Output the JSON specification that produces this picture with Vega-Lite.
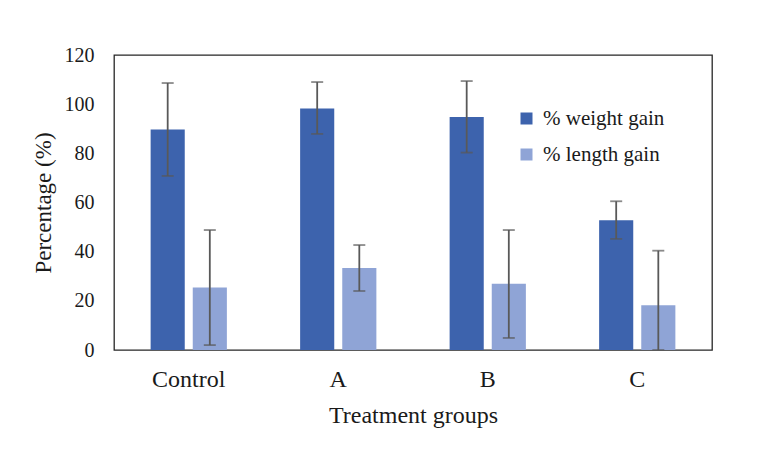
{
  "$schema": "https://vega.github.io/schema/vega-lite/v6.json",
  "autosize": "none",
  "width": 598,
  "height": 295,
  "padding": {"left": 114, "top": 55, "right": 71, "bottom": 108},
  "background": "white",
  "config": {
    "font": "Liberation Serif",
    "view": {"stroke": "#262626", "strokeWidth": 1.3},
    "axis": {"grid": false, "ticks": false, "domain": false, "labelColor": "#1a1a1a", "titleColor": "#1a1a1a", "labelFont": "Liberation Serif", "titleFont": "Liberation Serif", "titleFontWeight": "normal"}
  },
  "data": {
    "values": [
      {"group": "Control", "series": "% weight gain", "value": 89.7, "lo": 70.8, "hi": 108.6},
      {"group": "Control", "series": "% length gain", "value": 25.4, "lo": 2.0, "hi": 48.8},
      {"group": "A", "series": "% weight gain", "value": 98.2, "lo": 87.9, "hi": 109.0},
      {"group": "A", "series": "% length gain", "value": 33.4, "lo": 24.0, "hi": 42.7},
      {"group": "B", "series": "% weight gain", "value": 94.8, "lo": 80.3, "hi": 109.4},
      {"group": "B", "series": "% length gain", "value": 26.9, "lo": 4.9, "hi": 48.8},
      {"group": "C", "series": "% weight gain", "value": 52.8, "lo": 45.2, "hi": 60.5},
      {"group": "C", "series": "% length gain", "value": 18.2, "lo": 0, "hi": 40.4}
    ]
  },
  "encoding": {
    "x": {
      "field": "group", "type": "nominal", "sort": ["Control", "A", "B", "C"],
      "scale": {"paddingInner": 0.49, "paddingOuter": 0.245},
      "axis": {"title": "Treatment groups", "labelAngle": 0, "labelFontSize": 24, "labelPadding": 17, "titleFontSize": 24, "titlePadding": 12}
    },
    "xOffset": {
      "field": "series", "type": "nominal", "sort": ["% weight gain", "% length gain"],
      "scale": {"paddingInner": 0.19, "paddingOuter": 0}
    }
  },
  "layer": [
    {
      "mark": {"type": "bar"},
      "encoding": {
        "y": {
          "field": "value", "type": "quantitative",
          "scale": {"domain": [0, 120]},
          "axis": {"title": "Percentage (%)", "values": [0, 20, 40, 60, 80, 100, 120], "labelFontSize": 20, "labelPadding": 20, "titleFontSize": 23, "titlePadding": 9}
        },
        "color": {
          "field": "series", "type": "nominal",
          "sort": ["% weight gain", "% length gain"],
          "scale": {"domain": ["% weight gain", "% length gain"], "range": ["#3d63ad", "#8fa4d6"]},
          "legend": {"title": null, "orient": "none", "legendX": 402, "legendY": 53, "symbolType": "square", "symbolSize": 144, "symbolStrokeWidth": 0, "labelFontSize": 21, "labelFont": {"expr": "'Liberation Serif'"}, "labelColor": "#1a1a1a", "rowPadding": 14, "labelOffset": 6}
        }
      }
    },
    {
      "mark": {"type": "rule", "color": "#595959", "strokeWidth": 1.8},
      "encoding": {
        "y": {"field": "lo", "type": "quantitative"},
        "y2": {"field": "hi"}
      }
    },
    {
      "mark": {"type": "tick", "color": "#595959", "thickness": 1.8, "size": 12},
      "encoding": {"y": {"field": "lo", "type": "quantitative"}}
    },
    {
      "mark": {"type": "tick", "color": "#595959", "thickness": 1.8, "size": 12},
      "encoding": {"y": {"field": "hi", "type": "quantitative"}}
    }
  ]
}
